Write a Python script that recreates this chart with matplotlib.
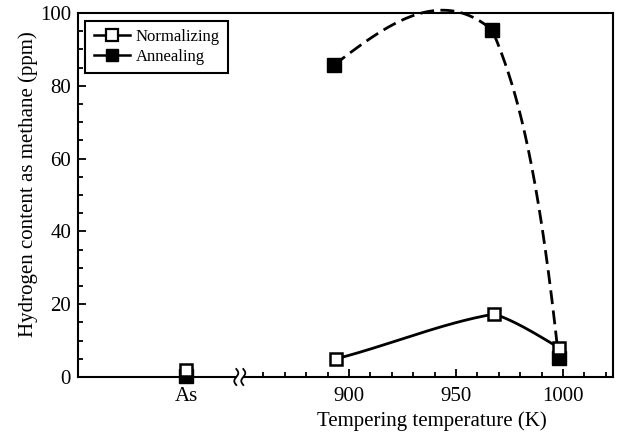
import numpy as np
import matplotlib
matplotlib.use("Agg")
import matplotlib.pyplot as plt
from matplotlib.lines import Line2D
from matplotlib.patches import Rectangle

#----- Data -----#

as_label = "As"
as_norm = 2.0
as_anneal = 0.3

temps_norm = [894, 968, 998]
h_norm = [5.0, 17.3, 8.1]

temps_anneal = [893, 967, 998]
h_anneal = [85.7, 95.3, 5.1]

# end tangents (ppm/K) of each hand-drawn curve segment
norm_tangents = [(0.15, 0.1), (-0.2, -0.35)]
anneal_tangents = [(0.45, -0.5), (-1.4, -5.5)]

#----- Layout -----#

as_pos = 824          # where the as-received point sits on the axis
break_pos = 849       # axis break mark
x_lim = (773.4, 1023.4)
major_x = [900, 950, 1000]
minor_x = np.arange(860, 1021, 10)

plt.rcParams['font.family'] = ['Liberation Serif', 'DejaVu Serif']
plt.rcParams['font.size'] = 15


def hermite_segment(x0, x1, y0, y1, m0, m1, n=80):
    t = np.linspace(0, 1, n)
    h = x1 - x0
    h00 = 2 * t**3 - 3 * t**2 + 1
    h10 = t**3 - 2 * t**2 + t
    h01 = -2 * t**3 + 3 * t**2
    h11 = t**3 - t**2
    return x0 + t * h, h00 * y0 + h10 * h * m0 + h01 * y1 + h11 * h * m1


def smooth_curve(xs, ys, tangents):
    cx, cy = [], []
    for i, (m0, m1) in enumerate(tangents):
        sx, sy = hermite_segment(xs[i], xs[i + 1], ys[i], ys[i + 1], m0, m1)
        cx.append(sx)
        cy.append(sy)
    return np.concatenate(cx), np.concatenate(cy)


fig = plt.figure(figsize=(6.19, 4.32), dpi=100)
ax = fig.add_axes([0.1260, 0.1273, 0.8643, 0.8426])

# curves
ax_x, ax_y = smooth_curve(temps_anneal, h_anneal, anneal_tangents)
ax.plot(ax_x, ax_y, color="black", linewidth=2.0,
        linestyle=(0, (5, 2.3)), clip_on=False, zorder=2)
nx, ny = smooth_curve(temps_norm, h_norm, norm_tangents)
ax.plot(nx, ny, color="black", linewidth=2.0, zorder=2)

# markers
ax.plot([as_pos] + temps_anneal, [as_anneal] + h_anneal, linestyle="none",
        marker="s", markersize=10, markerfacecolor="black",
        markeredgecolor="black", markeredgewidth=1.0, clip_on=False, zorder=3)
ax.plot([as_pos] + temps_norm, [as_norm] + h_norm, linestyle="none",
        marker="s", markersize=9, markerfacecolor="white",
        markeredgecolor="black", markeredgewidth=1.8, clip_on=False, zorder=4)

# axes
ax.set_xlim(*x_lim)
ax.set_ylim(0, 100)
for sp in ax.spines.values():
    sp.set_linewidth(1.5)

ax.set_xticks([as_pos] + major_x)
ax.set_xticklabels([as_label] + [str(v) for v in major_x])
ax.set_xticks(minor_x, minor=True)
ax.xaxis.get_major_ticks()[0].tick1line.set_visible(False)
ax.set_yticks(np.arange(0, 101, 20))
ax.set_yticks(np.arange(0, 101, 5), minor=True)
ax.tick_params(which="both", direction="in", width=1.3, labelsize=15)
ax.tick_params(which="major", length=6, pad=5)
ax.tick_params(axis="x", which="major", pad=7)
ax.tick_params(which="minor", length=3.5)

# axis break mark
px_x = 1.0 / (fig.get_figwidth() * fig.dpi * 0.8643)
px_y = 1.0 / (fig.get_figheight() * fig.dpi * 0.8426)
bx = (break_pos - x_lim[0]) / (x_lim[1] - x_lim[0])
ax.add_patch(Rectangle((bx - 3 * px_x, -3 * px_y), 6 * px_x, 6 * px_y,
                       transform=ax.transAxes, facecolor="white",
                       edgecolor="none", clip_on=False, zorder=5))
s = np.linspace(-1, 1, 40)
for off in (-3.5, 3.5):
    ax.plot(bx + (off + 2.0 * np.sin(np.pi * s)) * px_x, s * 8 * px_y,
            transform=ax.transAxes, color="black", linewidth=1.3,
            clip_on=False, zorder=6)

ax.set_xlabel("Tempering temperature (K)", fontsize=15)
ax.xaxis.set_label_coords(0.662, -0.093)
ax.set_ylabel("Hydrogen content as methane (ppm)", fontsize=15)
ax.yaxis.set_label_coords(-0.075, 0.53)

handles = [
    Line2D([], [], color="black", linewidth=1.8, marker="s", markersize=8,
           markerfacecolor="white", markeredgecolor="black",
           markeredgewidth=1.6),
    Line2D([], [], color="black", linewidth=1.8, marker="s", markersize=8,
           markerfacecolor="black", markeredgecolor="black"),
]
leg = ax.legend(handles, ["Normalizing", "Annealing"], loc="upper left",
                fontsize=12, frameon=True, fancybox=False, framealpha=1,
                edgecolor="black", handlelength=2.2, handletextpad=0.3,
                borderpad=0.5, labelspacing=0.25, borderaxespad=0.45)
leg.get_frame().set_linewidth(1.5)

fig.savefig("out.png", dpi=100)
